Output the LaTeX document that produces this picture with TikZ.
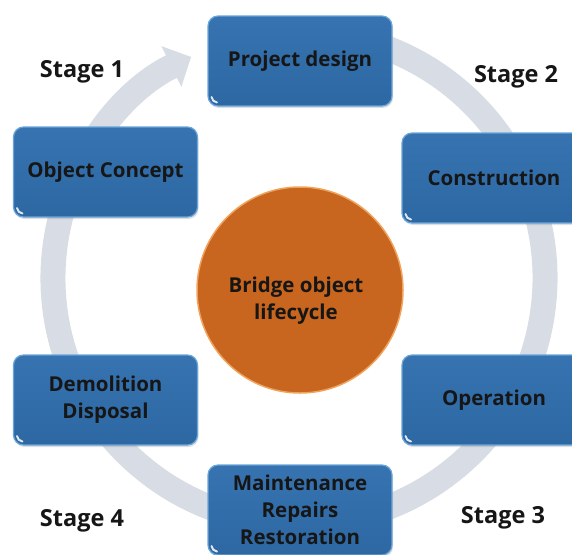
\documentclass[tikz,border=0pt]{standalone}
\usepackage{fontspec}
\setmainfont{Open Sans}
\usetikzlibrary{arrows.meta,shadows}
\definecolor{boxblue}{HTML}{2D68A3}
\definecolor{boxtop}{HTML}{3673B0}
\definecolor{boxedge}{HTML}{6AA5DA}
\definecolor{ringgrey}{HTML}{D8DDE5}
\definecolor{hubfill}{HTML}{C8651E}
\definecolor{hubedge}{HTML}{F0A35C}
\definecolor{txt}{HTML}{161616}
\tikzset{
  stagebox/.style={rectangle, rounded corners=10pt, minimum width=184pt, minimum height=90pt,
    top color=boxtop, bottom color=boxblue, draw=boxedge, line width=1.2pt,
    drop shadow={shadow xshift=1pt, shadow yshift=-2pt, opacity=0.25},
    text=txt, font=\bfseries\fontsize{20.5}{27}\selectfont, align=center, inner sep=2pt,
    path picture={\draw[white, line width=2pt, line cap=round, opacity=0.85]
      ([shift={(3.5pt,9pt)}]path picture bounding box.south west)
      to[bend right=35] ([shift={(9pt,3.5pt)}]path picture bounding box.south west);}},
  hub/.style={circle, minimum size=206pt, fill=hubfill, draw=hubedge, line width=1.5pt},
  hubtext/.style={text=txt, font=\bfseries\fontsize{20.5}{27}\selectfont, align=center},
  stagelabel/.style={text=txt, font=\bfseries\fontsize{23.5}{26}\selectfont, anchor=base, inner sep=0pt},
  ring/.style={draw=ringgrey, line width=25pt, -{Triangle[width=44pt,length=22pt]}}
}
\begin{document}
\begin{tikzpicture}[x=1pt,y=-1pt]
\useasboundingbox (0,0) rectangle (572,554);
\clip (0,0) rectangle (572,554);
\fill[white] (0,0) rectangle (572,554);
% ring arrow
\coordinate (rc) at (299,278);
\draw[ring] ([shift={(-80:246)}]rc) arc[start angle=-80, end angle=244, radius=246];
% boxes
\node[stagebox] (design) at (300,61) {Project design};
\node[stagebox] (construct) at (494,178) {Construction};
\node[stagebox] (operation) at (494,400) {Operation};
\node[stagebox] (maint) at (300,510) {Maintenance\\Repairs\\Restoration};
\node[stagebox] (demol) at (105.5,400) {Demolition\\Disposal};
\node[stagebox] (concept) at (105.5,172) {Object Concept};
\node[hub] (hub) at (300,290) {};
\node[hubtext] (hubtxt) at (296,301) {Bridge object\\lifecycle};
% stage labels
\node[stagelabel] (s1) at (82,77) {Stage 1};
\node[stagelabel] (s2) at (516,82) {Stage 2};
\node[stagelabel] (s3) at (503,523) {Stage 3};
\node[stagelabel] (s4) at (82,526) {Stage 4};
\end{tikzpicture}
\end{document}
